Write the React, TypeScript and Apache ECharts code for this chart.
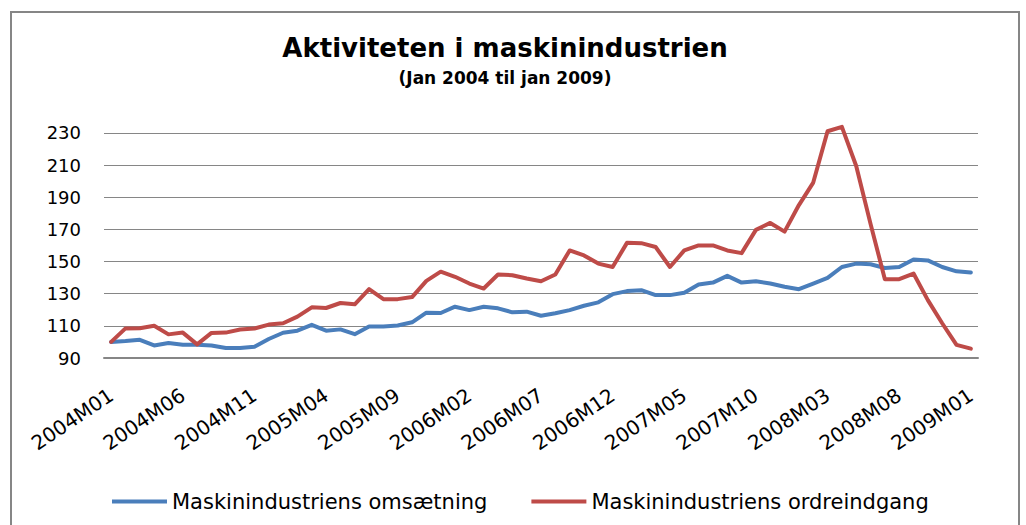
import React, { useEffect, useRef } from "react";
import * as echarts from "echarts";

const years = [2004, 2005, 2006, 2007, 2008, 2009];
const categories: string[] = [];
for (const y of years) {
  for (let m = 1; m <= 12; m++) {
    if (y === 2009 && m > 1) break;
    categories.push(`${y}M${m < 10 ? "0" + m : m}`);
  }
}

const omsaetning = [
  100, 100.5, 101.3, 97.8, 99.3, 98.2, 98.2, 97.8, 96.2, 96.2,
  97.0, 101.8, 105.7, 107.0, 110.6, 107.0, 107.8, 104.8, 109.6, 109.6,
  110.2, 112.2, 118.2, 118.0, 121.9, 119.8, 121.9, 120.9, 118.4, 118.8,
  116.3, 117.8, 119.8, 122.5, 124.6, 129.7, 131.6, 132.2, 129.1, 129.1,
  130.6, 135.7, 136.9, 141.1, 136.9, 137.7, 136.3, 134.3, 132.8, 136.3,
  139.8, 146.6, 148.7, 148.3, 146.0, 146.6, 151.3, 150.7, 146.6, 143.9,
  143.1,
];

const ordreindgang = [
  100, 108.4, 108.5, 110.1, 104.7, 105.8, 98.5, 105.6, 105.8, 107.7,
  108.3, 110.8, 111.6, 115.7, 121.5, 121.1, 124.2, 123.4, 132.8, 126.6,
  126.6, 127.9, 138.0, 143.7, 140.5, 136.3, 133.2, 141.9, 141.5, 139.4,
  137.7, 141.9, 156.9, 153.8, 148.7, 146.6, 161.6, 161.4, 159.0, 146.6,
  156.9, 160.0, 160.0, 156.9, 155.2, 169.7, 174.0, 168.6, 185.1, 199.1,
  231.0, 233.7, 209.4, 173.4, 139.0, 139.0, 142.5, 126.0, 111.6, 98.2,
  95.8,
];

const seriesNames = ["Maskinindustriens omsætning", "Maskinindustriens ordreindgang"];
const titleText = "Aktiviteten i maskinindustrien";
const subtitleText = "(Jan 2004 til jan 2009)";
const yMin = 90;
const yMax = 238;
const yLabelStep = 20;
const yLastLabel = 230;

const FONT = "DejaVu Sans";

export default function App() {
  const ref = useRef<HTMLDivElement>(null);

  useEffect(() => {
    if (!ref.current) return;
    const chart = echarts.init(ref.current, undefined, { renderer: "svg" });
    const gridColors: string[] = [];
    for (let v = yMin; v <= yLastLabel; v += 10) {
      gridColors.push((v - yMin) % yLabelStep === 0 ? "#868686" : "rgba(0,0,0,0)");
    }
    gridColors.push("rgba(0,0,0,0)");
    chart.setOption({
      animation: false,
      backgroundColor: "#ffffff",
      graphic: [
        {
          type: "rect",
          silent: true,
          z: -1,
          shape: { x: 11, y: 12, width: 1008, height: 540 },
          style: { fill: "none", stroke: "#868686", lineWidth: 2 },
        },
        {
          type: "text",
          x: 505,
          y: 48,
          style: {
            text: titleText,
            fontFamily: FONT,
            fontWeight: "bold",
            fontSize: 26,
            fill: "#000",
            textAlign: "center",
            textVerticalAlign: "middle",
          },
        },
        {
          type: "text",
          x: 505,
          y: 78,
          style: {
            text: subtitleText,
            fontFamily: FONT,
            fontWeight: "bold",
            fontSize: 17,
            fill: "#000",
            textAlign: "center",
            textVerticalAlign: "middle",
          },
        },
      ],
      legend: {
        data: seriesNames,
        left: 107,
        top: 486,
        icon: "rect",
        itemWidth: 55,
        itemHeight: 4,
        itemGap: 44,
        textStyle: { fontFamily: FONT, fontSize: 21, color: "#000" },
      },
      grid: { left: 104, right: 48, top: 120, bottom: 167, containLabel: false },
      xAxis: {
        type: "category",
        data: categories,
        boundaryGap: true,
        axisLine: { lineStyle: { color: "#868686", width: 2 } },
        axisTick: { show: false },
        axisLabel: {
          interval: 4,
          rotate: 34,
          fontFamily: FONT,
          fontSize: 20,
          color: "#000",
          margin: 35,
        },
        splitLine: { show: false },
      },
      yAxis: {
        type: "value",
        min: yMin,
        max: yMax,
        interval: 10,
        axisLine: { show: false },
        axisTick: { show: false },
        axisLabel: {
          fontFamily: FONT,
          fontSize: 18,
          color: "#000",
          margin: 23,
          formatter: (v: number) =>
            v <= yLastLabel && (v - yMin) % yLabelStep === 0 ? String(v) : "",
        },
        splitLine: {
          show: true,
          lineStyle: { color: gridColors, width: 1 },
        },
      },
      series: [
        {
          name: seriesNames[0],
          type: "line",
          data: omsaetning,
          symbol: "none",
          color: "#4A7EBB",
          lineStyle: { width: 4, color: "#4A7EBB", join: "round", cap: "round" },
          z: 3,
        },
        {
          name: seriesNames[1],
          type: "line",
          data: ordreindgang,
          symbol: "none",
          color: "#BE4B48",
          lineStyle: { width: 4, color: "#BE4B48", join: "round", cap: "round" },
          z: 4,
        },
      ],
    });
    return () => chart.dispose();
  }, []);

  return (
    <div
      ref={ref}
      style={{ position: "absolute", left: 0, top: 0, width: 1026, height: 525, background: "#fff" }}
    />
  );
}
